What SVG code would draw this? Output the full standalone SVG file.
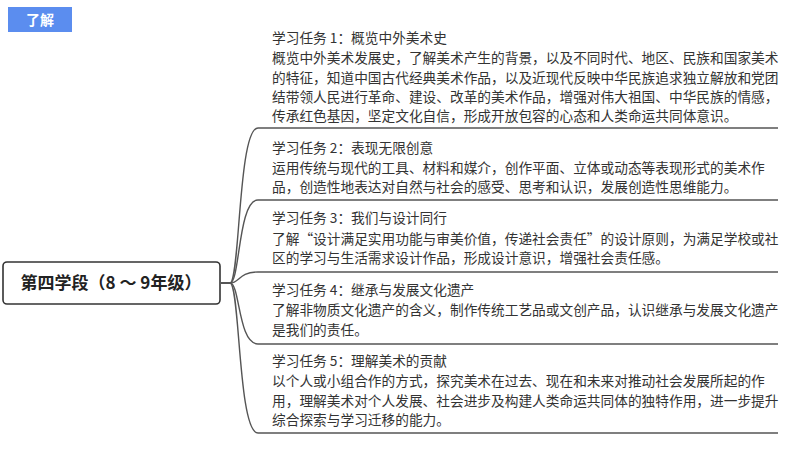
<svg xmlns="http://www.w3.org/2000/svg" width="800" height="450" viewBox="0 0 800 450">
<style>
.t{font-family:"Noto Sans CJK SC","Liberation Sans",sans-serif;font-size:13.7px;fill:#333}
.c{fill:none;stroke:#555;stroke-width:1.4}
</style>
<rect width="800" height="450" fill="#fff"/>
<g id="tag"><rect x="8" y="7" width="64" height="25" fill="#5b8def"/><text x="40" y="25" text-anchor="middle" font-family="Noto Sans CJK SC,sans-serif" font-size="14" font-weight="bold" fill="#fff">了解</text></g>
<g id="connectors">
<path class="c" d="M221,283 H230 C240,283 238,128 258,128 H778"/>
<path class="c" d="M221,283 H230 C240,283 238,200 258,200 H778"/>
<path class="c" d="M221,283 H230 C240,283 238,272 258,272 H778"/>
<path class="c" d="M221,283 H230 C240,283 238,344 258,344 H778"/>
<path class="c" d="M221,283 H230 C240,283 238,433 258,433 H778"/>
</g>
<g id="root"><rect x="3" y="262" width="217" height="42" rx="4" fill="#fff" stroke="#333" stroke-width="1.6"/><text x="111" y="289" text-anchor="middle" font-family="Noto Sans CJK SC,sans-serif" font-size="17" font-weight="bold" fill="#222">第四学段（8 ～ 9年级）</text></g>
<g id="task1" class="t">
<text x="272" y="43">学习任务 1：概览中外美术史</text>
<text x="272" y="63">概览中外美术发展史，了解美术产生的背景，以及不同时代、地区、民族和国家美术</text>
<text x="272" y="83">的特征，知道中国古代经典美术作品，以及近现代反映中华民族追求独立解放和党团</text>
<text x="272" y="102">结带领人民进行革命、建设、改革的美术作品，增强对伟大祖国、中华民族的情感，</text>
<text x="272" y="121">传承红色基因，坚定文化自信，形成开放包容的心态和人类命运共同体意识。</text>
</g>
<g id="task2" class="t">
<text x="272" y="153">学习任务 2：表现无限创意</text>
<text x="272" y="173">运用传统与现代的工具、材料和媒介，创作平面、立体或动态等表现形式的美术作</text>
<text x="272" y="192">品，创造性地表达对自然与社会的感受、思考和认识，发展创造性思维能力。</text>
</g>
<g id="task3" class="t">
<text x="272" y="223">学习任务 3：我们与设计同行</text>
<text x="272" y="244">了解“设计满足实用功能与审美价值，传递社会责任”的设计原则，为满足学校或社</text>
<text x="272" y="263">区的学习与生活需求设计作品，形成设计意识，增强社会责任感。</text>
</g>
<g id="task4" class="t">
<text x="272" y="295">学习任务 4：继承与发展文化遗产</text>
<text x="272" y="315">了解非物质文化遗产的含义，制作传统工艺品或文创产品，认识继承与发展文化遗产</text>
<text x="272" y="335">是我们的责任。</text>
</g>
<g id="task5" class="t">
<text x="272" y="366">学习任务 5：理解美术的贡献</text>
<text x="272" y="386">以个人或小组合作的方式，探究美术在过去、现在和未来对推动社会发展所起的作</text>
<text x="272" y="406">用，理解美术对个人发展、社会进步及构建人类命运共同体的独特作用，进一步提升</text>
<text x="272" y="425">综合探索与学习迁移的能力。</text>
</g>
</svg>
